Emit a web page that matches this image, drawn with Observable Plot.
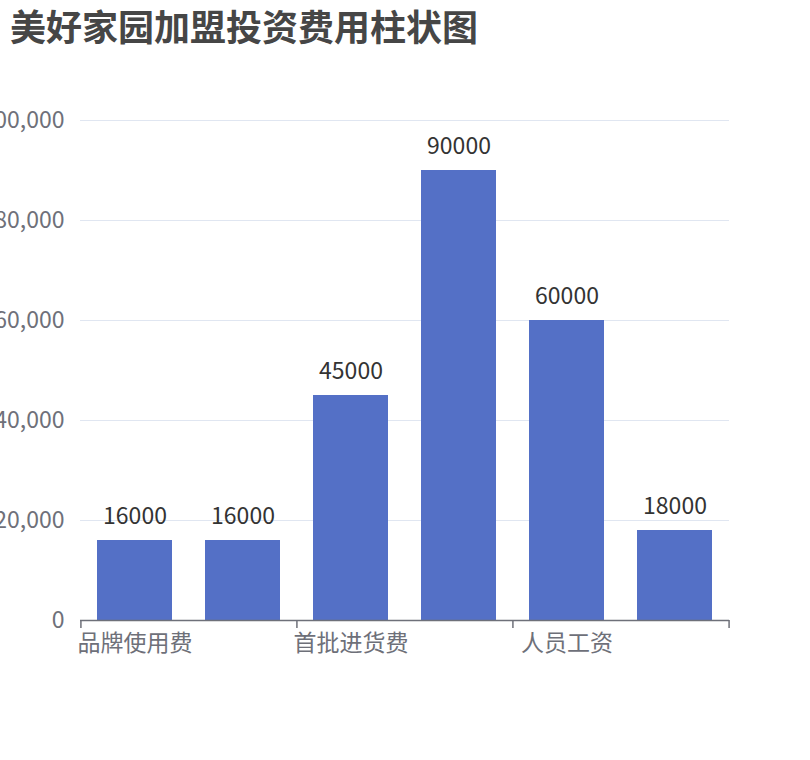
<!DOCTYPE html>
<html>
<head>
<meta charset="utf-8">
<script src="https://cdn.jsdelivr.net/npm/d3@7"></script>
<script src="https://cdn.jsdelivr.net/npm/@observablehq/plot@0.6"></script>
<style>
  html, body { margin: 0; padding: 0; background: #fff; }
  #title { height: 60px; box-sizing: border-box; padding: 7px 0 0 10px; font: bold 36px/1 "Noto Sans CJK SC", sans-serif; color: #464646; }
  #chart svg { display: block; overflow: visible; }
</style>
</head>
<body>
<div id="title">美好家园加盟投资费用柱状图</div>
<div id="chart"></div>
<script>
const categories = ["品牌使用费", "加盟保证金", "首批进货费", "店面装修费", "人员工资", "其他费用"];
const values = [16000, 16000, 45000, 90000, 60000, 18000];
const yTicks = [0, 20000, 40000, 60000, 80000, 100000];
const labelCats = ["品牌使用费", "首批进货费", "人员工资"];

const data = categories.map((c, i) => ({category: c, value: values[i]}));

const W = 810, H = 700, ML = 80, MR = 81, MT = 60, MB = 140;
const step = (W - ML - MR) / categories.length;
const font = '"Noto Sans CJK SC", sans-serif';
const axisColor = "#6E7079";

const plot = Plot.plot({
  width: W, height: H,
  marginLeft: ML, marginRight: MR, marginTop: MT, marginBottom: MB,
  style: {fontFamily: font, background: "#fff"},
  x: {domain: categories, paddingInner: 0.31, paddingOuter: 0.155, label: null},
  y: {domain: [0, 100000], label: null},
  marks: [
    Plot.gridY(yTicks, {stroke: "#E0E6F1", strokeOpacity: 1, strokeWidth: 1}),
    Plot.axisY(yTicks, {tickSize: 0, tickPadding: 16, fontSize: 23, fill: axisColor, tickFormat: d3.format(","), label: null}),
    Plot.barY(data, {x: "category", y: "value", fill: "#5470C6"}),
    Plot.ruleY([0], {stroke: axisColor, strokeWidth: 1.5}),
    Plot.axisX(labelCats, {tickSize: 8, stroke: axisColor, strokeWidth: 1.5, text: null, dx: -step / 2, label: null}),
    Plot.axisX([categories[categories.length - 1]], {tickSize: 8, stroke: axisColor, strokeWidth: 1.5, text: null, dx: step / 2, label: null}),
    Plot.axisX(labelCats, {tickSize: 0, tickPadding: 14, fontSize: 23, fill: axisColor, label: null}),
    Plot.text(data, {x: "category", y: "value", text: d => String(d.value), dy: -17, lineAnchor: "bottom", fontSize: 23, fill: "#333"})
  ]
});
document.getElementById("chart").appendChild(plot);
</script>
</body>
</html>
